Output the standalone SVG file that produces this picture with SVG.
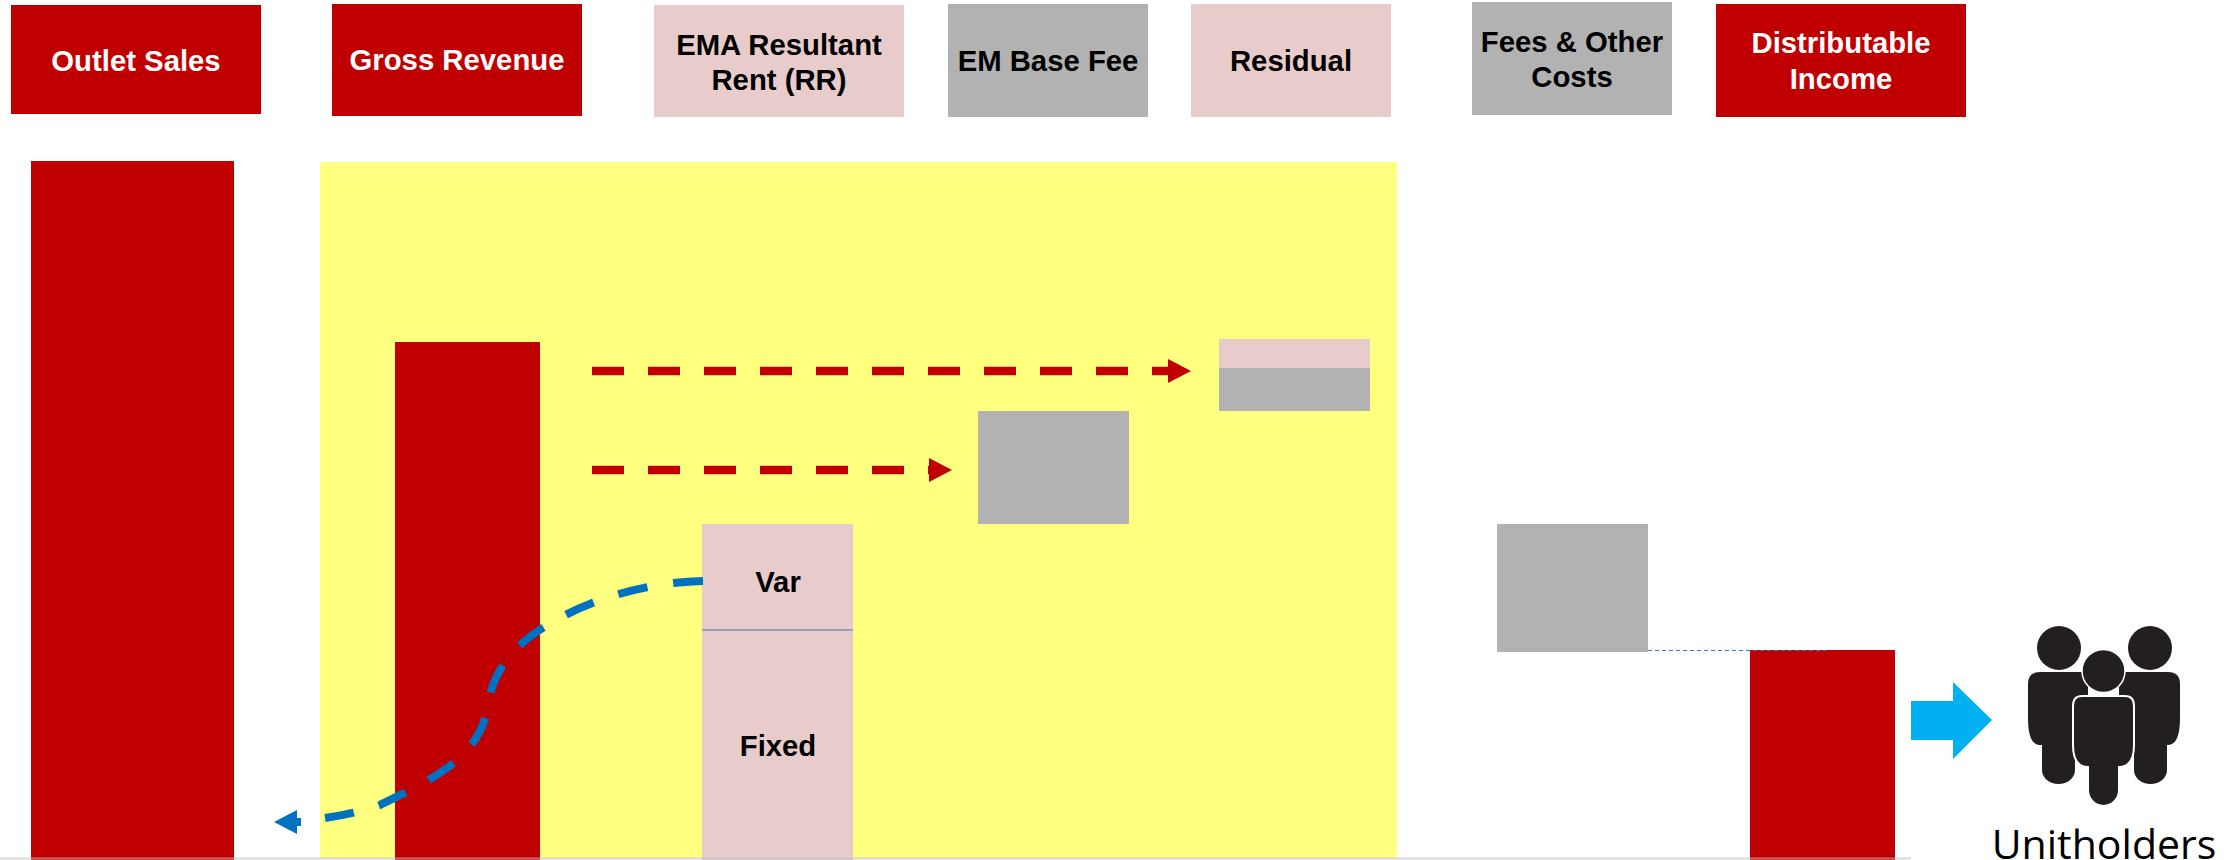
<svg xmlns="http://www.w3.org/2000/svg" width="2238" height="860" viewBox="0 0 2238 860">
<style>
.red{fill:#C00000}.pink{fill:#E8CCCC}.gray{fill:#B2B2B2}.dark{fill:#231F20}
text{font-family:"Liberation Sans",Arial,sans-serif;font-weight:700;font-size:29.3px;text-anchor:middle;fill:#000}
.w{fill:#fff}
.rd{fill:none;stroke:#C00000;stroke-width:8.5;stroke-dasharray:32 24}
</style>
<defs>
<marker id="ra" markerUnits="userSpaceOnUse" markerWidth="24" markerHeight="24" refX="5" refY="12" orient="auto"><path d="M0,0L23,12L0,24Z" fill="#C00000"/></marker>
<marker id="ba" markerUnits="userSpaceOnUse" markerWidth="24" markerHeight="24" refX="0" refY="12" orient="auto"><path d="M0,0L23,12L0,24Z" fill="#0070C0"/></marker>
</defs>
<rect width="2238" height="860" fill="#fff"/>
<rect id="plot-bg" x="320" y="162" width="1077" height="696" fill="#FFFF80"/>
<g id="outlet-header"><rect class="red" x="11" y="5" width="250" height="109"/><text class="w" x="136" y="71">Outlet Sales</text></g>
<g id="gross-header"><rect class="red" x="332" y="4" width="250" height="112"/><text class="w" x="457" y="70">Gross Revenue</text></g>
<g id="ema-header"><rect class="pink" x="654" y="5" width="250" height="112"/><text x="779" y="55">EMA Resultant</text><text x="779" y="90">Rent (RR)</text></g>
<g id="base-header"><rect class="gray" x="948" y="4" width="200" height="113"/><text x="1048" y="71">EM Base Fee</text></g>
<g id="residual-header"><rect class="pink" x="1191" y="4" width="200" height="113"/><text x="1291" y="71">Residual</text></g>
<g id="fees-header"><rect class="gray" x="1472" y="2" width="200" height="113"/><text x="1572" y="52">Fees &amp; Other</text><text x="1572" y="87">Costs</text></g>
<g id="dist-header"><rect class="red" x="1716" y="4" width="250" height="113"/><text class="w" x="1841" y="53">Distributable</text><text class="w" x="1841" y="89">Income</text></g>
<g id="outlet-bar"><rect class="red" x="31" y="161" width="203" height="699"/></g>
<g id="gross-bar"><rect class="red" x="395" y="342" width="145" height="518"/></g>
<g id="residual-bar"><rect class="pink" x="1219" y="339" width="151" height="29"/><rect class="gray" x="1219" y="368" width="151" height="43"/></g>
<g id="base-bar"><rect class="gray" x="978" y="411" width="151" height="113"/></g>
<g id="rent-bar"><rect class="pink" x="702" y="524" width="151" height="336"/><line x1="702" y1="630" x2="853" y2="630" stroke="#4472C4" stroke-width="1.2"/><text x="778" y="592">Var</text><text x="778" y="756">Fixed</text></g>
<g id="fees-bar"><rect class="gray" x="1497" y="524" width="151" height="128"/></g>
<g id="dist-bar"><rect class="red" x="1750" y="650" width="145" height="210"/></g>
<line id="axis" x1="0" y1="858.5" x2="1911" y2="858.5" stroke="#BFBFBF" stroke-opacity=".6" stroke-width="2"/>
<g id="connectors">
<path class="rd" d="M592,371H1173" marker-end="url(#ra)"/>
<path class="rd" d="M592,470H934" marker-end="url(#ra)"/>
<path d="M703,581C650,582 590,598 544,627C510,648 492,675 488,705C484,735 465,755 447,768C425,784 400,795 380,805C360,812 345,815 325,818" fill="none" stroke="#0070C0" stroke-width="8" stroke-dasharray="30 26"/>
<path d="M301,822H297" fill="none" stroke="#0070C0" stroke-width="8" marker-end="url(#ba)"/>
<line x1="1648" y1="650.5" x2="1826" y2="650.5" stroke="#4472C4" stroke-width="1.2" stroke-dasharray="4 3"/>
<path d="M1911,701H1953V682L1992,720L1953,759V740H1911Z" fill="#00B0F0"/>
</g>
<g id="unitholders">
<ellipse class="dark" cx="2059" cy="648" rx="22" ry="22"/>
<ellipse class="dark" cx="2150" cy="648" rx="22" ry="22"/>
<path class="dark" d="M2040,672H2088V720H2075V770A16.5,14 0 0 1 2042,770V745H2040Q2028,745 2028,718V684Q2028,672 2040,672Z"/>
<path class="dark" d="M2168,672H2119V720H2134V770A16.5,14 0 0 0 2167,770V745H2168Q2180,745 2180,718V684Q2180,672 2168,672Z"/>
<ellipse class="dark" cx="2103.5" cy="671" rx="21.5" ry="21.5" stroke="#fff" stroke-width="1.5"/>
<path class="dark" stroke="#fff" stroke-width="2" d="M2082,696H2125Q2134,696 2134,706V745Q2134,767 2119,767V790A15.5,16 0 0 1 2088,790V767Q2073,767 2073,745V706Q2073,696 2082,696Z"/>
<text x="2104" y="859" style="font-family:'Open Sans',sans-serif;font-weight:400;font-size:41px;fill:#000">Unitholders</text>
</g>
</svg>
